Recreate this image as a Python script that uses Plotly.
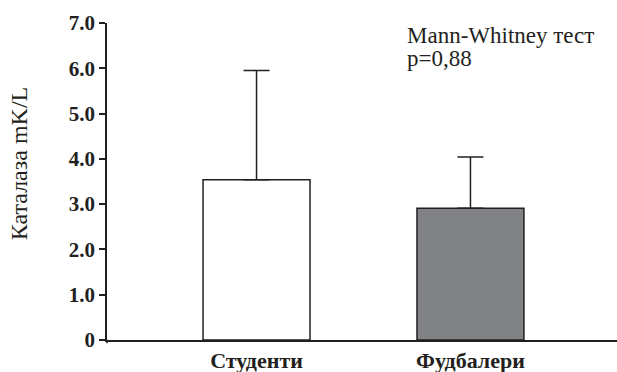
import plotly.graph_objects as go

categories = ["Студенти", "Фудбалери"]
means = [3.54, 2.91]
sd_up = [2.41, 1.13]
bar_colors = ["#ffffff", "#808285"]
ytick_vals = [0, 1, 2, 3, 4, 5, 6, 7]
ytick_text = ["0", "1.0", "2.0", "3.0", "4.0", "5.0", "6.0", "7.0"]
y_title = "Каталаза mK/L"
note_lines = ["Mann-Whitney тест", "p=0,88"]

ink = "#231f20"
font_family = "Liberation Serif"

fig = go.Figure()
fig.add_trace(go.Bar(
    x=categories, y=means,
    width=0.5,
    marker=dict(color=bar_colors, line=dict(color=ink, width=1.5)),
    error_y=dict(type="data", symmetric=False, array=sd_up, arrayminus=[0, 0],
                 color=ink, thickness=1.5, width=13),
))

fig.update_layout(
    width=617, height=372,
    margin=dict(l=107, r=0, t=23, b=32),
    plot_bgcolor="white", paper_bgcolor="white",
    showlegend=False,
    font=dict(family=font_family, color=ink),
    xaxis=dict(
        type="category", range=[-0.699, 1.685], automargin=False,
        showline=True, linecolor=ink, linewidth=1.5,
        ticks="", showgrid=False, zeroline=False,
        tickfont=dict(size=22, family=font_family, weight="bold"),
    ),
    yaxis=dict(
        range=[0, 7.0], tickvals=ytick_vals, ticktext=ytick_text, automargin=False,
        showline=True, linecolor=ink, linewidth=1.5,
        ticks="outside", ticklen=6, tickwidth=1.5, tickcolor=ink,
        showgrid=False, zeroline=False,
        tickfont=dict(size=21, family=font_family, weight="bold"),
    ),
)

# y-axis title
fig.add_annotation(
    xref="paper", yref="paper", x=-0.171, y=0.557, xanchor="center", yanchor="middle",
    text=y_title, textangle=-90, showarrow=False,
    font=dict(size=24, family=font_family, color=ink),
)

# statistics note
fig.add_annotation(
    xref="paper", yref="paper", x=0.585, y=0.960, xanchor="left", yanchor="middle",
    text=note_lines[0], showarrow=False, align="left",
    font=dict(size=23, family=font_family, color=ink),
)
fig.add_annotation(
    xref="paper", yref="paper", x=0.585, y=0.888, xanchor="left", yanchor="middle",
    text=note_lines[1], showarrow=False, align="left",
    font=dict(size=23, family=font_family, color=ink),
)

# small extension of the y axis below zero
fig.add_shape(type="line", xref="paper", yref="paper", x0=0, x1=0, y0=0, y1=-0.01,
              line=dict(color=ink, width=1.5))

fig.write_html("out.html", config={"displayModeBar": False},
               post_script="document.body.style.margin='0';")
